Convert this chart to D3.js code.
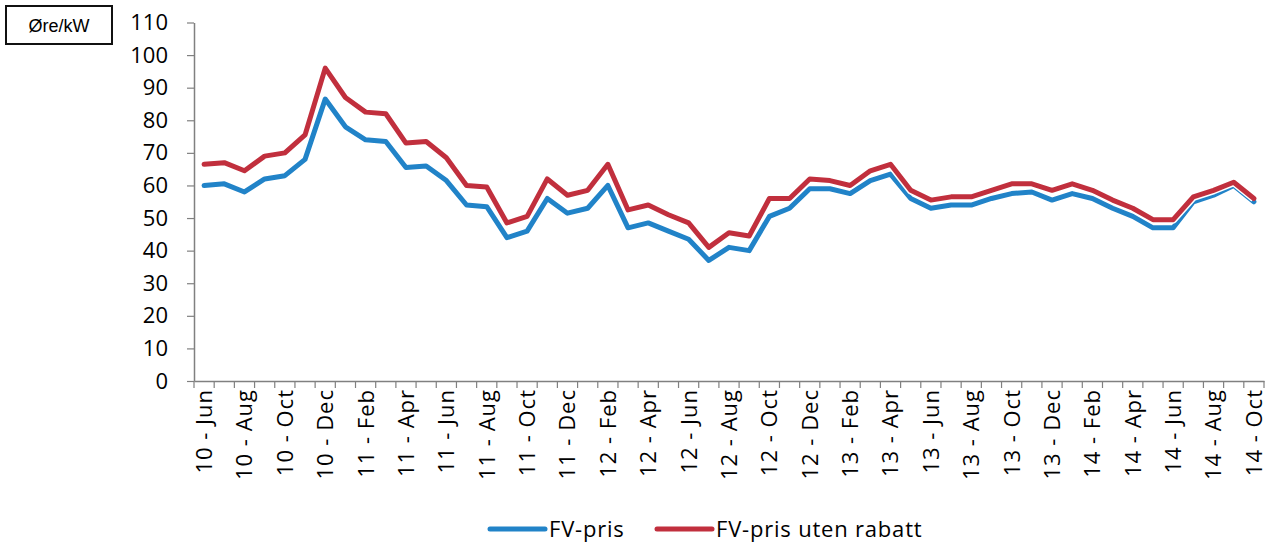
<!DOCTYPE html>
<html>
<head>
<meta charset="utf-8">
<script src="https://cdn.jsdelivr.net/npm/d3@7"></script>
<style>
  body { margin: 0; background: #fff; }
  svg { display: block; }
</style>
</head>
<body>
<div id="chart"></div>
<script>
// data
const months = [
  "10 - Jun", "10 - Jul", "10 - Aug", "10 - Sep", "10 - Oct", "10 - Nov", "10 - Dec",
  "11 - Jan", "11 - Feb", "11 - Mar", "11 - Apr", "11 - May", "11 - Jun", "11 - Jul",
  "11 - Aug", "11 - Sep", "11 - Oct", "11 - Nov", "11 - Dec",
  "12 - Jan", "12 - Feb", "12 - Mar", "12 - Apr", "12 - May", "12 - Jun", "12 - Jul",
  "12 - Aug", "12 - Sep", "12 - Oct", "12 - Nov", "12 - Dec",
  "13 - Jan", "13 - Feb", "13 - Mar", "13 - Apr", "13 - May", "13 - Jun", "13 - Jul",
  "13 - Aug", "13 - Sep", "13 - Oct", "13 - Nov", "13 - Dec",
  "14 - Jan", "14 - Feb", "14 - Mar", "14 - Apr", "14 - May", "14 - Jun", "14 - Jul",
  "14 - Aug", "14 - Sep", "14 - Oct"
]
const fvPris = [
  60, 60.5, 58, 62, 63, 68, 86.5,
  78, 74, 73.5, 65.5, 66, 61.5, 54, 53.5, 44, 46, 56, 51.5,
  53, 60, 47, 48.5, 46, 43.5, 37, 41, 40, 50.5, 53, 59,
  59, 57.5, 61.5, 63.5, 56, 53, 54, 54, 56, 57.5, 58, 55.5,
  57.5, 56, 53, 50.5, 47, 47, 55, 57, 60, 55
]
const fvPrisUtenRabatt = [
  66.5, 67, 64.5, 69, 70, 75.5, 96,
  87, 82.5, 82, 73, 73.5, 68.5, 60, 59.5, 48.5, 50.5, 62, 57,
  58.5, 66.5, 52.5, 54, 51, 48.5, 41, 45.5, 44.5, 56, 56, 62,
  61.5, 60, 64.5, 66.5, 58.5, 55.5, 56.5, 56.5, 58.5, 60.5, 60.5, 58.5,
  60.5, 58.5, 55.5, 53, 49.5, 49.5, 56.5, 58.5, 61, 56
]
const yTicks = [0, 10, 20, 30, 40, 50, 60, 70, 80, 90, 100, 110]
const seriesNames = ["FV-pris", "FV-pris uten rabatt"]

const colors = ["#2183c8", "#c12f3d"]
const width = 1267
const height = 544

const svg = d3.select("#chart")
  .append("svg")
  .attr("width", width)
  .attr("height", height)

const x = d3.scaleBand()
  .domain(months)
  .range([194, 1264])

const y = d3.scaleLinear()
  .domain([0, 110])
  .range([381, 22.5])

// unit box
svg.append("rect")
  .attr("x", 6).attr("y", 6)
  .attr("width", 106).attr("height", 38)
  .attr("fill", "none")
  .attr("stroke", "#111")
  .attr("stroke-width", 2)
svg.append("text")
  .attr("x", 59).attr("y", 32)
  .attr("text-anchor", "middle")
  .style("font-family", "Liberation Sans, Arial, sans-serif")
  .style("font-size", "18px")
  .text("Øre/kW")

/* ------- Y AXIS -------*/
const yAxis = svg.append("g")
  .attr("transform", "translate(" + x.range()[0] + ",0)")
  .call(d3.axisLeft(y).tickValues(yTicks).tickSize(7).tickSizeOuter(0).tickPadding(19))
yAxis.select(".domain").attr("stroke", "#808080").attr("stroke-width", 1.5)
yAxis.selectAll(".tick line").attr("stroke", "#808080").attr("stroke-width", 1.2)
yAxis.selectAll("text")
  .style("font-family", "Open Sans, sans-serif")
  .style("font-size", "22px")
  .attr("fill", "#000")

/* ------- X AXIS -------*/
const xAxis = svg.append("g")
  .attr("transform", "translate(0," + y(0) + ")")
  .call(d3.axisBottom(x).tickValues(months.filter((d, i) => i % 2 === 0)).tickSize(0).tickSizeOuter(0))
xAxis.select(".domain").attr("stroke", "#808080").attr("stroke-width", 1.5)
xAxis.selectAll("text")
  .attr("transform", "rotate(-90)")
  .attr("x", -8)
  .attr("y", 0)
  .attr("dy", "0.36em")
  .style("text-anchor", "end")
  .style("font-family", "Open Sans, sans-serif")
  .style("font-size", "22px")
  .style("letter-spacing", "1px")
  .attr("fill", "#000")

// month ticks sit on the band edges
xAxis.selectAll("line.month")
  .data(months.map(m => x(m)).concat([x.range()[1]]))
  .enter()
  .append("line")
  .attr("class", "month")
  .attr("x1", d => d).attr("x2", d => d)
  .attr("y1", 0).attr("y2", 7)
  .attr("stroke", "#808080")
  .attr("stroke-width", 1.2)

/* ------- LINES -------*/
const line = d3.line()
  .x((d, i) => x(months[i]) + x.bandwidth() / 2)
  .y(d => y(d))

const series = [fvPris, fvPrisUtenRabatt]
series.forEach((values, k) => {
  svg.append("path")
    .datum(values)
    .attr("fill", "none")
    .attr("stroke", "#fff")
    .attr("stroke-width", 8)
    .attr("stroke-linejoin", "round")
    .attr("d", line)
  svg.append("path")
    .datum(values)
    .attr("fill", "none")
    .attr("stroke", colors[k])
    .attr("stroke-width", 5)
    .attr("stroke-linejoin", "round")
    .attr("stroke-linecap", "round")
    .attr("d", line)
})

/* ------- LEGEND -------*/
const legendX = [490, 657]
const legend = svg.append("g")
  .selectAll("g")
  .data(seriesNames)
  .enter()
  .append("g")
  .attr("transform", (d, i) => "translate(" + legendX[i] + ",529)")
legend.append("line")
  .attr("x1", 0).attr("x2", 55)
  .attr("stroke", (d, i) => colors[i])
  .attr("stroke-width", 5)
  .attr("stroke-linecap", "round")
legend.append("text")
  .attr("x", 59)
  .attr("dy", "0.36em")
  .style("font-family", "Open Sans, sans-serif")
  .style("font-size", "22px")
  .style("letter-spacing", "0.8px")
  .attr("fill", "#000")
  .text(d => d)
</script>
</body>
</html>
